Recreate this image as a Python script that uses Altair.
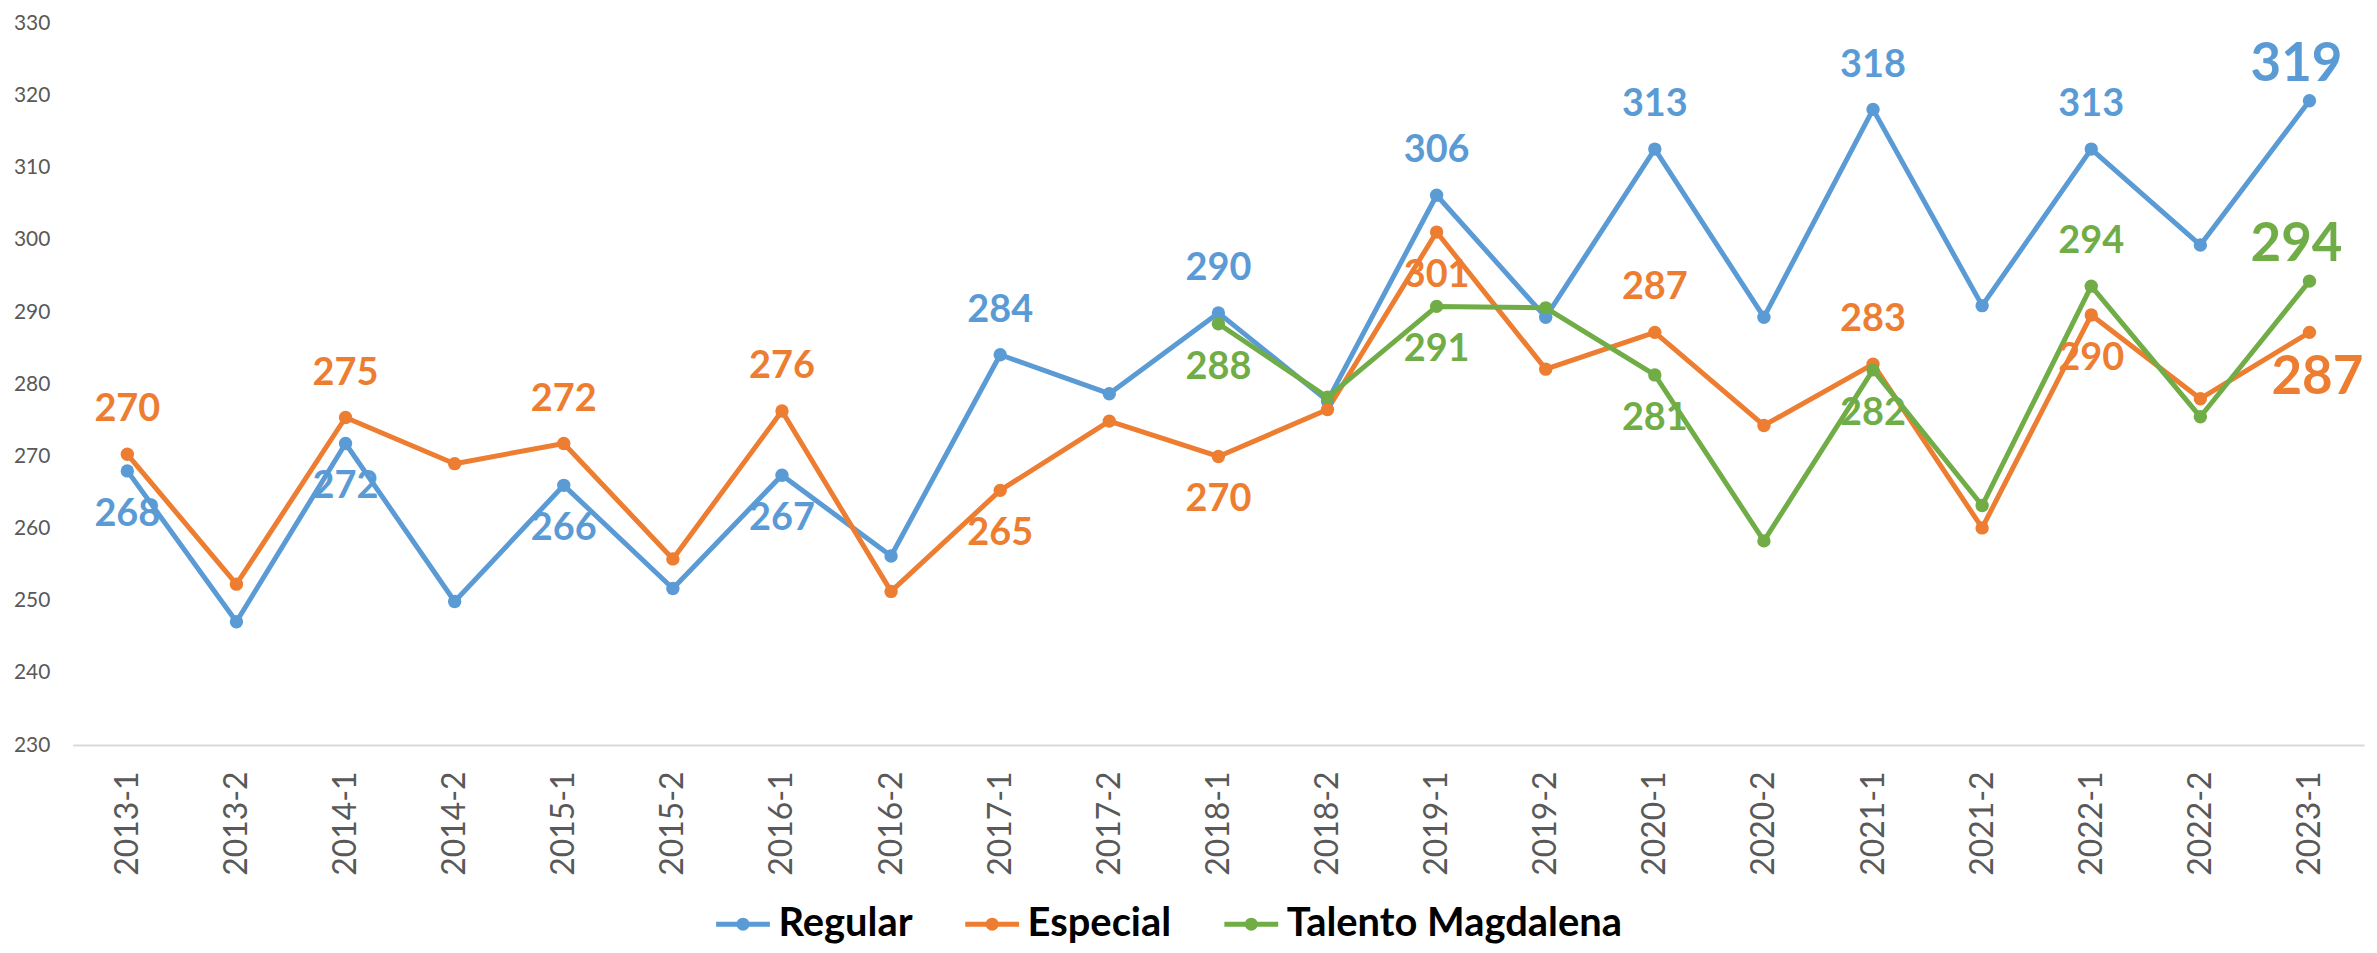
import altair as alt
import pandas as pd

periods = ["2013-1", "2013-2", "2014-1", "2014-2", "2015-1", "2015-2", "2016-1", "2016-2",
           "2017-1", "2017-2", "2018-1", "2018-2", "2019-1", "2019-2", "2020-1", "2020-2",
           "2021-1", "2021-2", "2022-1", "2022-2", "2023-1"]

series_names = ["Regular", "Especial", "Talento Magdalena"]
series_colors = ["#5B9BD5", "#ED7D31", "#70AD47"]

regular = [268.0, 247.1, 271.8, 249.9, 266.0, 251.7, 267.4, 256.2, 284.1, 278.7, 289.9,
           277.7, 306.2, 289.3, 312.6, 289.3, 318.1, 290.9, 312.6, 299.3, 319.3]
especial = [270.3, 252.3, 275.4, 269.0, 271.8, 255.8, 276.3, 251.3, 265.3, 274.9, 270.0,
            276.5, 301.1, 282.1, 287.2, 274.3, 282.8, 260.1, 289.6, 278.0, 287.2]
talento = [None, None, None, None, None, None, None, None, None, None, 288.4,
           278.2, 290.8, 290.6, 281.3, 258.3, 282.0, 263.2, 293.6, 275.5, 294.3]

# where each data label sits ("" = no label)
regular_pos = ["below", "", "below", "", "below", "", "below", "", "above", "", "above",
               "", "above", "", "above", "", "above", "", "above", "", "big_above"]
especial_pos = ["above", "", "above", "", "above", "", "above", "", "below", "", "below",
                "", "below", "", "above", "", "above", "", "below", "", "big_below"]
talento_pos = ["", "", "", "", "", "", "", "", "", "", "below",
               "", "below", "", "below", "", "below", "", "above", "", "big_above"]

rows = []
for name, vals, poss in zip(series_names, [regular, especial, talento],
                            [regular_pos, especial_pos, talento_pos]):
    for p, v, pos in zip(periods, vals, poss):
        if v is not None:
            rows.append({"series": name, "period": p, "value": v, "pos": pos})
df = pd.DataFrame(rows)

FONT = "Lato"
legend_symbol = ("M-1,0H1 M-0.15,0A0.15,0.15,0,1,0,0.15,0A0.15,0.15,0,1,0,-0.15,0 "
                 "M-0.06,0A0.06,0.06,0,1,0,0.06,0A0.06,0.06,0,1,0,-0.06,0")

color = alt.Color(
    "series:N",
    scale=alt.Scale(domain=series_names, range=series_colors),
    sort=series_names,
    legend=alt.Legend(
        title=None, orient="none", direction="horizontal",
        legendX=643, legendY=874, padding=0,
        labelFont=FONT, labelFontSize=40, labelFontWeight="bold", labelColor="#000000",
        symbolType=legend_symbol, symbolSize=2916, symbolStrokeWidth=5,
        labelOffset=6, columnPadding=42, labelLimit=600,
    ),
)

base = alt.Chart(df).encode(
    x=alt.X("period:N", sort=periods,
            scale=alt.Scale(type="point", padding=0.5),
            axis=alt.Axis(title=None, labelAngle=-90, labelFont=FONT, labelFontSize=32,
                          labelColor="#595959", domainColor="#D9D9D9", domainWidth=2,
                          ticks=False, grid=False, labelPadding=26)),
    y=alt.Y("value:Q",
            scale=alt.Scale(domain=[230, 330], nice=False, zero=False),
            axis=alt.Axis(title=None, values=list(range(230, 331, 10)), labelFont=FONT,
                          labelFontSize=21, labelColor="#595959", domain=False,
                          ticks=False, grid=False, labelPadding=23)),
    color=color,
)

lines = base.mark_line(strokeWidth=5, strokeJoin="round").encode(
    order=alt.Order("period:N"))
points = base.mark_circle(size=180, opacity=1)

txt = alt.Text("value:Q", format=".0f")
above = base.mark_text(font=FONT, fontSize=38, fontWeight="bold", dy=-44,
                       baseline="middle").encode(text=txt).transform_filter(
    alt.datum.pos == "above")
below = base.mark_text(font=FONT, fontSize=38, fontWeight="bold", dy=44,
                       baseline="middle").encode(text=txt).transform_filter(
    alt.datum.pos == "below")
big_above = base.mark_text(font=FONT, fontSize=53, fontWeight="bold", dy=-36, dx=-13,
                           baseline="middle").encode(text=txt).transform_filter(
    alt.datum.pos == "big_above")
big_below = base.mark_text(font=FONT, fontSize=53, fontWeight="bold", dy=46, dx=8,
                           baseline="middle").encode(text=txt).transform_filter(
    alt.datum.pos == "big_below")

chart = alt.layer(lines, points, above, below, big_above, big_below).properties(
    width=2299, height=724,
    autosize=alt.AutoSizeParams(type="none"),
    padding={"left": 65, "top": 14, "right": 5, "bottom": 199},
    background="#FFFFFF",
).configure_view(stroke=None)

chart.save("out.html", embed_options={"renderer": "svg", "actions": False})
